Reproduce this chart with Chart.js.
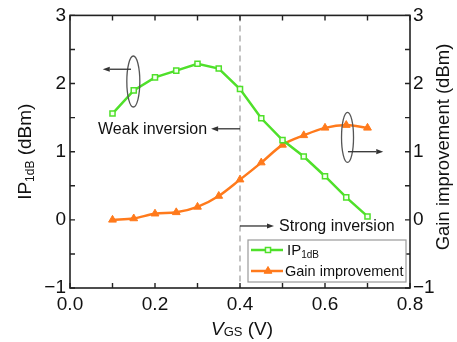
<!DOCTYPE html>
<html>
<head>
<meta charset="utf-8">
<script src="https://cdn.jsdelivr.net/npm/chart.js@4/dist/chart.umd.min.js"></script>
<style>
  html, body { margin: 0; padding: 0; background: #fff; }
  #wrap { width: 457px; height: 342px; }
</style>
</head>
<body>
<div id="wrap"><canvas id="c" width="457" height="342"></canvas></div>
<script>
// Gate voltage sweep (V)
const vgs = [0.1, 0.15, 0.2, 0.25, 0.3, 0.35, 0.4, 0.45, 0.5, 0.55, 0.6, 0.65, 0.7];
// Input 1 dB compression point (dBm)
const ip1dB = [1.56, 1.90, 2.09, 2.19, 2.29, 2.22, 1.92, 1.49, 1.17, 0.93, 0.64, 0.33, 0.05];
// Gain improvement (dBm)
const gainImprovement = [0.00, 0.02, 0.09, 0.11, 0.19, 0.35, 0.59, 0.84, 1.10, 1.24, 1.35, 1.39, 1.35];
// Axis tick labels
const xTickLabels = ['0.0', '0.2', '0.4', '0.6', '0.8'];
const yTickLabels = ['\u22121', '0', '1', '2', '3'];

const FONT = "'Liberation Sans', Arial, sans-serif";
const GREEN = '#4fe02a';
const ORANGE = '#ff7a1c';
const AXIS = '#222';

const pts = (ys) => vgs.map((x, i) => ({ x, y: ys[i] }));

function xLabel(v) {
  const k = Math.round(v * 10);
  return k % 2 === 0 ? xTickLabels[k / 2] : '';
}
function yLabel(v) {
  const k = Math.round(v * 2);
  return k % 2 === 0 ? yTickLabels[k / 2 + 1] : '';
}

// Draws a run of text pieces (e.g. with a subscript), centered on cx
function subText(ctx, parts, cx, cy) {
  let w = 0;
  parts.forEach(p => { ctx.font = p.font; w += ctx.measureText(p.t).width; });
  let x = cx - w / 2;
  ctx.textAlign = 'left';
  ctx.textBaseline = 'alphabetic';
  parts.forEach(p => {
    ctx.font = p.font;
    ctx.fillText(p.t, x, cy + (p.dy || 0));
    x += ctx.measureText(p.t).width;
  });
}

function arrow(ctx, x1, y1, x2, y2) {
  const ang = Math.atan2(y2 - y1, x2 - x1);
  const hl = 7, hw = 2.6;
  ctx.beginPath();
  ctx.moveTo(x1, y1);
  ctx.lineTo(x2 - hl * Math.cos(ang), y2 - hl * Math.sin(ang));
  ctx.stroke();
  ctx.beginPath();
  ctx.moveTo(x2, y2);
  ctx.lineTo(x2 - hl * Math.cos(ang) + hw * Math.sin(ang), y2 - hl * Math.sin(ang) - hw * Math.cos(ang));
  ctx.lineTo(x2 - hl * Math.cos(ang) - hw * Math.sin(ang), y2 - hl * Math.sin(ang) + hw * Math.cos(ang));
  ctx.closePath();
  ctx.fill();
}

// Frame, inward ticks, titles, annotations and legend
const framePlugin = {
  id: 'frame',
  beforeDatasetsDraw(chart) {
    const { ctx, chartArea: a, scales } = chart;
    const xs = scales.x;
    ctx.save();
    ctx.strokeStyle = '#b0b0b0';
    ctx.lineWidth = 1.5;
    ctx.setLineDash([6, 4]);
    const xd = xs.getPixelForValue(0.4);
    ctx.beginPath();
    ctx.moveTo(xd, a.top);
    ctx.lineTo(xd, a.bottom);
    ctx.stroke();
    ctx.restore();
  },
  afterDraw(chart) {
    const { ctx, chartArea: a, scales } = chart;
    const xs = scales.x, ys = scales.y;
    ctx.save();
    ctx.strokeStyle = AXIS;
    ctx.lineWidth = 1.6;
    ctx.strokeRect(a.left, a.top, a.right - a.left, a.bottom - a.top);
    ctx.lineWidth = 1.4;
    const tl = 5;
    ctx.beginPath();
    xs.ticks.forEach(t => {
      const px = xs.getPixelForValue(t.value);
      ctx.moveTo(px, a.bottom); ctx.lineTo(px, a.bottom - tl);
      ctx.moveTo(px, a.top); ctx.lineTo(px, a.top + tl);
    });
    ys.ticks.forEach(t => {
      const py = ys.getPixelForValue(t.value);
      ctx.moveTo(a.left, py); ctx.lineTo(a.left + tl, py);
      ctx.moveTo(a.right, py); ctx.lineTo(a.right - tl, py);
    });
    ctx.stroke();

    // Axis titles
    ctx.fillStyle = '#111';
    const big = `19px ${FONT}`, small = `12px ${FONT}`;
    subText(ctx, [
      { t: 'V', font: `italic 19px ${FONT}` },
      { t: 'GS', font: `13px ${FONT}`, dy: 1 },
      { t: ' (V)', font: big }
    ], xs.getPixelForValue(0.4) + 2, 335);

    ctx.save();
    ctx.translate(31, (a.top + a.bottom) / 2);
    ctx.rotate(-Math.PI / 2);
    subText(ctx, [
      { t: 'IP', font: big },
      { t: '1dB', font: small, dy: 3 },
      { t: ' (dBm)', font: big }
    ], 0, 0);
    ctx.restore();

    ctx.save();
    ctx.translate(449, 147);
    ctx.rotate(-Math.PI / 2);
    subText(ctx, [{ t: 'Gain improvement (dBm)', font: `18.5px ${FONT}` }], 0, 0);
    ctx.restore();

    // Ellipses and arrows pointing each curve to its axis
    ctx.strokeStyle = '#555';
    ctx.lineWidth = 1.3;
    ctx.beginPath();
    ctx.ellipse(xs.getPixelForValue(0.149), ys.getPixelForValue(2.03), 6.5, 25.5, 0, 0, Math.PI * 2);
    ctx.stroke();
    ctx.beginPath();
    ctx.ellipse(xs.getPixelForValue(0.653), ys.getPixelForValue(1.21), 6, 25, 0, 0, Math.PI * 2);
    ctx.stroke();

    ctx.strokeStyle = '#333';
    ctx.fillStyle = '#333';
    ctx.lineWidth = 1.3;
    arrow(ctx, xs.getPixelForValue(0.1435), ys.getPixelForValue(2.21), xs.getPixelForValue(0.077), ys.getPixelForValue(2.21));
    arrow(ctx, xs.getPixelForValue(0.654), ys.getPixelForValue(1.0), xs.getPixelForValue(0.737), ys.getPixelForValue(1.0));
    arrow(ctx, xs.getPixelForValue(0.4), ys.getPixelForValue(1.336), xs.getPixelForValue(0.332), ys.getPixelForValue(1.336));
    arrow(ctx, xs.getPixelForValue(0.4), ys.getPixelForValue(-0.09), xs.getPixelForValue(0.48), ys.getPixelForValue(-0.09));

    ctx.fillStyle = '#111';
    ctx.font = `16px ${FONT}`;
    ctx.textAlign = 'left';
    ctx.textBaseline = 'middle';
    ctx.fillText('Weak inversion', xs.getPixelForValue(0.066), ys.getPixelForValue(1.336) + 1);
    ctx.fillText('Strong inversion', xs.getPixelForValue(0.492), ys.getPixelForValue(-0.09) + 1);

    // Legend box
    const lx = 248, ly = 240, lw = 158, lh = 42;
    ctx.fillStyle = '#fff';
    ctx.fillRect(lx, ly, lw, lh);
    ctx.strokeStyle = '#9a9a9a';
    ctx.lineWidth = 1.2;
    ctx.strokeRect(lx, ly, lw, lh);
    const entries = chart.data.datasets;
    const rows = [ly + 10, ly + 31];
    entries.forEach((ds, i) => {
      const y = rows[i];
      ctx.strokeStyle = ds.borderColor;
      ctx.lineWidth = 2.5;
      ctx.beginPath();
      ctx.moveTo(lx + 3, y); ctx.lineTo(lx + 35, y);
      ctx.stroke();
      ctx.fillStyle = ds.pointBackgroundColor;
      ctx.lineWidth = ds.pointBorderWidth;
      Chart.helpers.drawPoint(ctx, {
        pointStyle: ds.pointStyle, radius: ds.pointRadius, borderWidth: ds.pointBorderWidth, rotation: 0
      }, lx + 20, y);
    });
    ctx.fillStyle = '#111';
    ctx.textBaseline = 'middle';
    ctx.textAlign = 'left';
    ctx.font = `15px ${FONT}`;
    ctx.fillText('IP', lx + 39, rows[0] + 1);
    const wIP = ctx.measureText('IP').width;
    ctx.font = `10px ${FONT}`;
    ctx.fillText('1dB', lx + 39 + wIP, rows[0] + 5);
    ctx.font = `14.5px ${FONT}`;
    ctx.fillText('Gain improvement', lx + 37, rows[1] + 1);
    ctx.restore();
  }
};

new Chart(document.getElementById('c'), {
  type: 'line',
  data: {
    datasets: [
      {
        label: 'IP1dB',
        data: pts(ip1dB),
        yAxisID: 'y',
        borderColor: GREEN,
        backgroundColor: GREEN,
        borderWidth: 2.5,
        pointStyle: 'rect',
        pointRadius: 3.6,
        pointBorderWidth: 1.5,
        pointBackgroundColor: '#f4fff0',
        pointBorderColor: GREEN,
        tension: 0
      },
      {
        label: 'Gain improvement',
        data: pts(gainImprovement),
        yAxisID: 'y1',
        borderColor: ORANGE,
        backgroundColor: ORANGE,
        borderWidth: 2.5,
        pointStyle: 'triangle',
        pointRadius: 4.5,
        pointBorderWidth: 1,
        pointBackgroundColor: ORANGE,
        pointBorderColor: ORANGE,
        cubicInterpolationMode: 'monotone'
      }
    ]
  },
  options: {
    responsive: false,
    animation: false,
    devicePixelRatio: 1,
    layout: { padding: { top: 14, left: 0, right: 0, bottom: 0 } },
    plugins: { legend: { display: false }, tooltip: { enabled: false } },
    scales: {
      x: {
        type: 'linear', min: 0, max: 0.8,
        grid: { display: false, drawTicks: false },
        border: { display: false },
        ticks: { stepSize: 0.1, autoSkip: false, maxRotation: 0, padding: 5, color: '#111',
                 font: { family: FONT, size: 19 }, callback: xLabel },
        afterFit(s) { s.height = 54; }
      },
      y: {
        position: 'left', min: -1, max: 3,
        grid: { display: false, drawTicks: false },
        border: { display: false },
        ticks: { stepSize: 0.5, autoSkip: false, padding: 4, color: '#111',
                 font: { family: FONT, size: 19 }, callback: yLabel },
        afterFit(s) { s.width = 70; }
      },
      y1: {
        position: 'right', min: -1, max: 3,
        grid: { display: false, drawTicks: false },
        border: { display: false },
        ticks: { stepSize: 0.5, autoSkip: false, padding: 3, color: '#111',
                 font: { family: FONT, size: 19 }, callback: yLabel },
        afterFit(s) { s.width = 47; }
      }
    }
  },
  plugins: [framePlugin]
});
</script>
</body>
</html>
